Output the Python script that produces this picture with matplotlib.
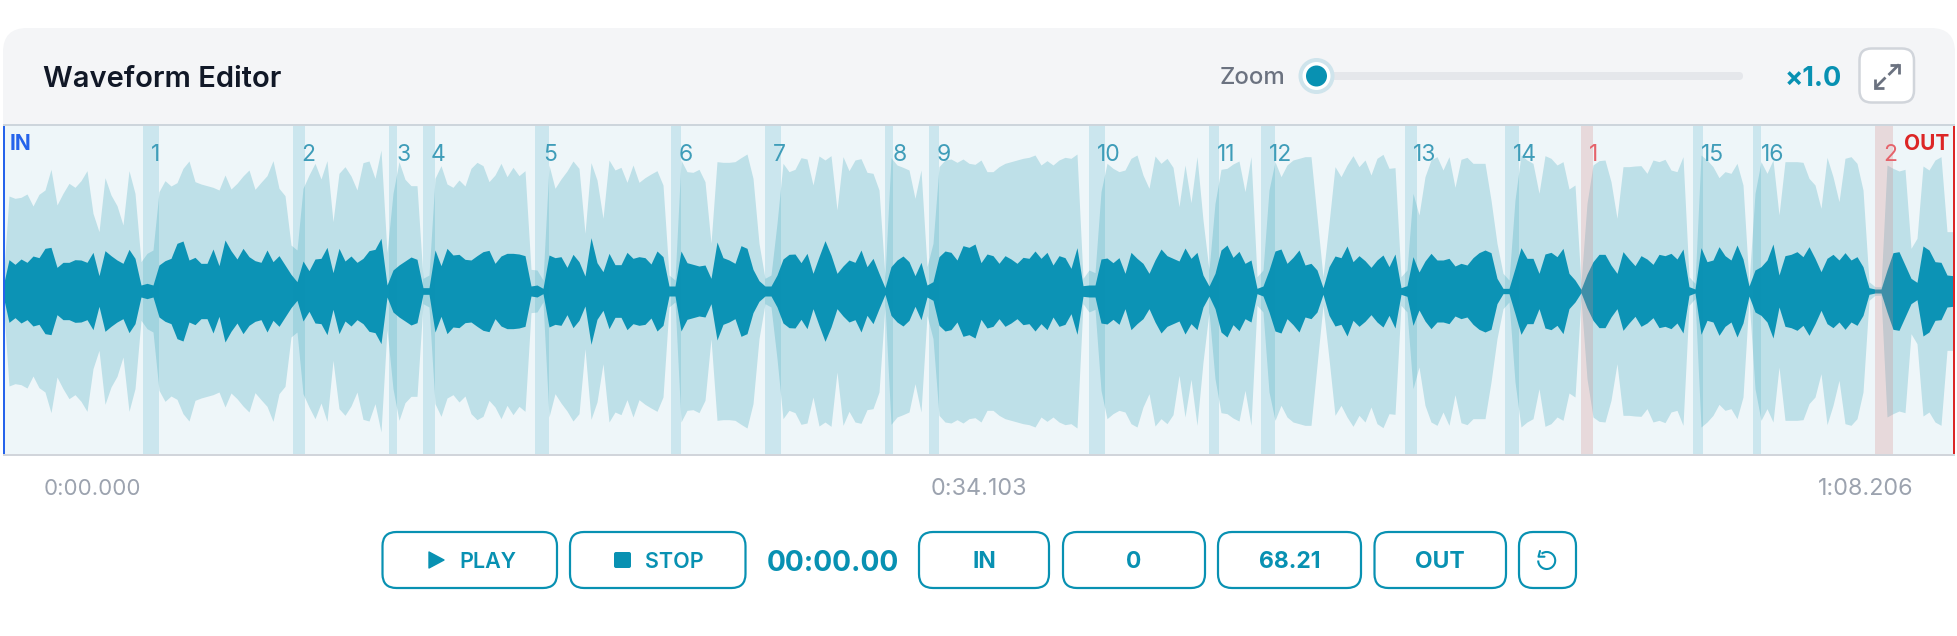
import numpy as np
import matplotlib
matplotlib.use("Agg")
import matplotlib.pyplot as plt
from matplotlib.patches import FancyBboxPatch, Rectangle, Circle, Arc, Polygon

# clip length in seconds, envelope has one value per sample
duration = 68.206

# rms envelope (half height)
rms_amp = [
    13, 94, 80, 96, 86, 105, 100, 128, 131, 71, 86, 86, 94, 93, 86, 116, 46, 121, 106, 93,
    83, 125, 98, 18, 23, 18, 78, 91, 98, 143, 150, 93, 101, 83, 83, 126, 76, 153, 121, 96,
    128, 103, 91, 86, 123, 88, 106, 78, 50, 28, 90, 61, 96, 98, 131, 55, 128, 90, 105, 86,
    98, 121, 125, 158, 18, 63, 78, 90, 102, 95, 10, 10, 123, 76, 128, 108, 110, 95, 93, 106,
    118, 122, 83, 105, 113, 113, 111, 106, 15, 18, 8, 108, 100, 103, 71, 110, 88, 45, 160, 85,
    58, 113, 79, 79, 116, 98, 103, 100, 81, 120, 103, 15, 15, 120, 85, 80, 75, 78, 38, 147,
    100, 93, 83, 136, 128, 65, 31, 15, 15, 48, 96, 110, 111, 85, 113, 53, 103, 151, 108, 53,
    75, 93, 86, 123, 73, 98, 53, 10, 73, 93, 105, 88, 46, 86, 18, 28, 103, 120, 116, 93,
    136, 131, 141, 85, 111, 106, 83, 106, 96, 83, 101, 98, 120, 98, 116, 78, 106, 100, 68, 130,
    16, 18, 18, 96, 99, 85, 100, 53, 116, 98, 83, 53, 93, 126, 106, 98, 90, 129, 98, 116,
    48, 15, 53, 123, 138, 101, 119, 83, 93, 8, 15, 63, 120, 126, 83, 101, 123, 78, 83, 63,
    10, 73, 105, 100, 135, 88, 106, 91, 71, 93, 108, 73, 111, 10, 16, 103, 57, 90, 113, 93,
    93, 98, 75, 83, 78, 100, 115, 123, 115, 38, 8, 8, 68, 130, 98, 98, 53, 111, 116, 103,
    128, 53, 33, 5, 51, 88, 110, 110, 78, 53, 118, 96, 76, 106, 96, 80, 110, 106, 113, 96,
    126, 13, 6, 130, 88, 93, 133, 106, 93, 138, 96, 15, 63, 73, 93, 141, 48, 106, 110, 118,
    103, 133, 98, 58, 98, 110, 93, 115, 93, 103, 73, 10, 6, 6, 63, 115, 118, 78, 38, 26,
    135, 123, 88, 86, 48, 46,
]

# peak envelope (half height)
peak_amp = [
    20, 285, 278, 281, 291, 255, 290, 303, 365, 258, 293, 323, 311, 331, 361, 233, 178, 340, 288, 256,
    198, 361, 293, 88, 113, 123, 298, 331, 315, 325, 368, 390, 328, 321, 316, 311, 303, 348, 306, 323,
    345, 363, 305, 326, 346, 391, 308, 286, 138, 123, 308, 348, 383, 336, 391, 208, 353, 373, 345, 303,
    385, 390, 338, 423, 115, 293, 388, 335, 316, 316, 38, 48, 338, 376, 321, 311, 333, 315, 368, 386,
    376, 328, 348, 383, 343, 371, 346, 361, 65, 63, 33, 378, 308, 336, 360, 390, 368, 173, 385, 333,
    218, 393, 363, 371, 326, 378, 326, 340, 351, 361, 318, 48, 33, 393, 358, 356, 365, 328, 143, 388,
    386, 386, 388, 400, 411, 338, 143, 38, 48, 203, 383, 358, 365, 400, 396, 318, 405, 393, 406, 243,
    403, 361, 393, 397, 356, 353, 303, 43, 400, 378, 371, 363, 278, 363, 73, 143, 373, 393, 396, 386,
    396, 383, 380, 393, 358, 358, 373, 383, 388, 393, 398, 401, 408, 378, 391, 378, 393, 401, 398, 411,
    38, 63, 55, 298, 383, 368, 358, 363, 398, 408, 348, 308, 405, 383, 398, 371, 253, 378, 265, 403,
    213, 63, 263, 365, 368, 381, 390, 298, 403, 43, 63, 303, 388, 343, 378, 393, 398, 403, 403, 223,
    43, 203, 373, 343, 378, 406, 373, 393, 348, 398, 410, 368, 370, 43, 63, 293, 228, 343, 393, 403,
    363, 403, 311, 395, 401, 383, 383, 383, 273, 143, 53, 33, 273, 408, 393, 383, 293, 406, 398, 378,
    388, 306, 318, 23, 263, 378, 391, 393, 328, 218, 373, 373, 375, 376, 353, 393, 388, 395, 363, 358,
    403, 43, 23, 408, 393, 373, 340, 358, 353, 383, 318, 23, 293, 388, 353, 393, 228, 388, 388, 388,
    386, 338, 318, 248, 401, 343, 268, 398, 403, 383, 303, 28, 13, 13, 378, 368, 360, 365, 128, 158,
    375, 363, 393, 403, 178, 178,
]

# section regions, seconds
section_labels = [str(i) for i in range(1, 17)]
section_start = [4.897, 10.143, 13.501, 14.690, 18.608, 23.365, 26.652, 30.849,
                 32.389, 37.985, 42.182, 44.001, 49.037, 52.535, 59.110, 61.209]
section_end = [5.456, 10.563, 13.781, 15.110, 19.097, 23.714, 27.212, 31.130,
               32.738, 38.545, 42.532, 44.490, 49.457, 53.024, 59.460, 61.489]

# red marker regions, seconds
marker_labels = ["1", "2"]
marker_start = [55.193, 65.478]
marker_end = [55.613, 66.107]

time_labels = ["0:00.000", "0:34.103", "1:08.206"]
clock_text = "00:00.00"
in_value = "0"
out_value = "68.21"
zoom_text = "×1.0"

TEAL = "#0891b2"
W, H = 1958, 636

plt.rcParams["font.family"] = ["Inter", "DejaVu Sans"]
fig = plt.figure(figsize=(W / 100, H / 100), dpi=100, facecolor="white")

# page axes in pixels, for the editor chrome
bg = fig.add_axes([0, 0, 1, 1], zorder=0)
bg.set_xlim(0, W)
bg.set_ylim(H, 0)
bg.axis("off")


def button(x0, x1, y0=532, y1=588, edge=TEAL, lw=2.2, rad=14, ax=bg):
    ax.add_patch(FancyBboxPatch((x0 + rad, y0 + rad), x1 - x0 - 2 * rad, y1 - y0 - 2 * rad,
                                boxstyle="round,pad=%d,rounding_size=%d" % (rad, rad),
                                fc="white", ec=edge, lw=lw * 0.72, zorder=3))


# header + panel background
bg.add_patch(FancyBboxPatch((27, 28 + 24), 1904, 80, boxstyle="round,pad=24,rounding_size=24",
                            fc="#f4f5f7", ec="none", zorder=1))
bg.add_patch(Rectangle((3, 100), 1952, 26, fc="#f4f5f7", ec="none", zorder=1))
bg.add_patch(Rectangle((3, 126), 1952, 329, fc="#eef6f9", ec="none", zorder=1))
bg.add_patch(Rectangle((3, 124), 1952, 2, fc="#cdd5dc", ec="none", zorder=2))
bg.add_patch(Rectangle((3, 454), 1952, 2, fc="#d1d5db", ec="none", zorder=2))

bg.text(43.5, 87, "Waveform Editor", fontsize=21, fontweight="semibold", color="#111827",
        ha="left", va="baseline")

# zoom control
bg.text(1220, 84, "Zoom", fontsize=17.3, color="#6b7280", ha="left", va="baseline", fontweight="medium")
bg.add_patch(FancyBboxPatch((1320, 72), 423, 8, boxstyle="round,pad=0,rounding_size=4",
                            fc="#e5e7eb", ec="none", zorder=2))
bg.add_patch(Circle((1316.5, 76), 18, fc="#cfe4ec", ec="none", zorder=3))
bg.add_patch(Circle((1316.5, 76), 14, fc="white", ec="none", zorder=3))
bg.add_patch(Circle((1316.5, 76), 10.5, fc=TEAL, ec="none", zorder=4))
bg.text(1785, 86, zoom_text, fontsize=19.5, fontweight="bold", color=TEAL, ha="left", va="baseline")
button(1859.5, 1914, 48.5, 102.5, edge="#d1d5db", lw=2.5, rad=12)
for xs, ys in [([1899, 1888.5], [64.5, 75]), ([1875.5, 1885.5], [87.5, 77.5]),
               ([1890, 1899, 1899], [64.5, 64.5, 73.5]), ([1875.5, 1875.5, 1884.5], [78.5, 87.5, 87.5])]:
    bg.plot(xs, ys, color="#6b7280", lw=2, solid_capstyle="butt", solid_joinstyle="miter", zorder=5)

# waveform axes
ax = fig.add_axes([3 / W, 1 - 454 / H, 1950 / W, 328 / H], zorder=1)
ax.patch.set_alpha(0)
ax.axis("off")
times = np.arange(len(peak_amp)) * duration / (len(peak_amp) - 1)
peak = np.array(peak_amp)
rms = np.array(rms_amp)
ax.fill_between(times, -peak, peak, color="#bee0e8", lw=0, zorder=1)
ax.fill_between(times, -rms, rms, color="#0c93b5", lw=0, zorder=2)
ax.set_xlim(0, duration)
ax.set_ylim(-489, 495)

for s, e, lab in zip(section_start, section_end, section_labels):
    ax.axvspan(s, e, color=TEAL, alpha=0.15, lw=0, zorder=3)
    ax.annotate(lab, xy=(s, 1), xycoords=ax.get_xaxis_transform(), xytext=(5.6, -25.2),
                textcoords="offset points", fontsize=16.5, color="#3f9db9", ha="left", va="baseline", zorder=5)
for s, e, lab in zip(marker_start, marker_end, marker_labels):
    ax.axvspan(s, e, color="#d68685", alpha=0.25, lw=0, zorder=3)
    ax.annotate(lab, xy=(s, 1), xycoords=ax.get_xaxis_transform(), xytext=(5.6, -25.2),
                textcoords="offset points", fontsize=16.5, color="#e5636b", ha="left", va="baseline", zorder=5)

# in / out handles
fg = fig.add_axes([0, 0, 1, 1], zorder=2)
fg.set_xlim(0, W)
fg.set_ylim(H, 0)
fg.axis("off")
fg.patch.set_alpha(0)
fg.add_patch(Rectangle((3, 126), 2, 328, fc="#2563eb", ec="none"))
fg.add_patch(Rectangle((1953, 126), 2, 328, fc="#dc2626", ec="none"))
fg.text(10, 150, "IN", fontsize=15, fontweight="bold", color="#2563eb", ha="left", va="baseline")
fg.text(1904, 150, "OUT", fontsize=15, fontweight="bold", color="#dc2626", ha="left", va="baseline")

# time ruler
ruler_c = "#9ca3af"
bg.text(44, 495, time_labels[0], fontsize=16, color=ruler_c, ha="left", va="baseline")
bg.text(979, 495, time_labels[1], fontsize=16.8, color=ruler_c, ha="center", va="baseline")
bg.text(1914, 495, time_labels[2], fontsize=16.8, color=ruler_c, ha="right", va="baseline")

# transport row
button(382.5, 557)
button(570, 745.5)
button(919, 1049)
button(1063, 1205)
button(1218, 1361)
button(1374.5, 1506)
button(1519, 1576)

bg.add_patch(Polygon([(429, 552), (444, 560), (429, 568)], closed=True, fc=TEAL, ec=TEAL, lw=1,
                     joinstyle="round", zorder=5))
bg.text(459, 567.5, "PLAY", fontsize=15.5, fontweight="semibold", color=TEAL, va="baseline", zorder=5)
bg.add_patch(FancyBboxPatch((615, 553), 15, 14, boxstyle="round,pad=1,rounding_size=2",
                            fc=TEAL, ec="none", zorder=5))
bg.text(645, 567.5, "STOP", fontsize=15.5, fontweight="semibold", color=TEAL, va="baseline", zorder=5)
bg.text(767, 571, clock_text, fontsize=20.3, fontweight="bold", color=TEAL, va="baseline")
for cx, lab in zip([984, 1134, 1289.5, 1440], ["IN", in_value, out_value, "OUT"]):
    bg.text(cx, 568.5, lab, fontsize=16.5, fontweight="bold", color=TEAL, ha="center", va="baseline", zorder=5)

# reset icon
bg.add_patch(Arc((1546.7, 560.5), 17, 17, theta1=-127, theta2=180, color=TEAL, lw=1.5, zorder=5))
bg.plot([1540, 1538.5, 1544.5], [551, 556.7, 556.7], color=TEAL, lw=1.5, solid_capstyle="round", zorder=5)

fig.savefig("out.png", dpi=100)
